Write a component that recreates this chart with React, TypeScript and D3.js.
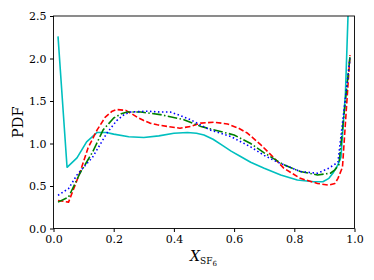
import React, { useRef, useEffect } from 'react';
import * as d3 from 'd3';

// Series sampled along X_SF6
const cyanX = [0.015, 0.045, 0.078, 0.11, 0.145, 0.175, 0.2, 0.25, 0.3, 0.35, 0.4, 0.445, 0.475, 0.5, 0.53, 0.56, 0.59, 0.62, 0.655, 0.7, 0.755, 0.81, 0.865, 0.895, 0.915, 0.93, 0.945, 0.955, 0.97, 0.985];
const cyanY = [2.26, 0.72, 0.83, 1.02, 1.13, 1.13, 1.11, 1.08, 1.07, 1.09, 1.12, 1.13, 1.12, 1.1, 1.05, 0.98, 0.91, 0.85, 0.78, 0.71, 0.63, 0.57, 0.55, 0.55, 0.59, 0.66, 0.75, 0.84, 1.6, 3.2];

const redX = [0.015, 0.05, 0.088, 0.115, 0.145, 0.172, 0.195, 0.21, 0.24, 0.26, 0.278, 0.3, 0.32, 0.345, 0.38, 0.42, 0.455, 0.49, 0.535, 0.578, 0.615, 0.645, 0.69, 0.73, 0.765, 0.82, 0.877, 0.915, 0.935, 0.945, 0.96, 0.985];
const redY = [0.33, 0.31, 0.66, 0.95, 1.16, 1.31, 1.38, 1.4, 1.39, 1.35, 1.31, 1.27, 1.24, 1.22, 1.2, 1.18, 1.2, 1.24, 1.25, 1.23, 1.18, 1.12, 0.98, 0.84, 0.71, 0.59, 0.53, 0.51, 0.53, 0.59, 0.72, 2.04];

const greenX = [0.015, 0.05, 0.088, 0.13, 0.165, 0.2, 0.225, 0.245, 0.29, 0.355, 0.433, 0.49, 0.545, 0.6, 0.655, 0.7, 0.765, 0.82, 0.877, 0.92, 0.935, 0.948, 0.985];
const greenY = [0.31, 0.37, 0.65, 0.9, 1.16, 1.3, 1.35, 1.37, 1.37, 1.34, 1.28, 1.2, 1.15, 1.1, 1.0, 0.89, 0.75, 0.67, 0.63, 0.65, 0.69, 0.75, 2.02];

const blueX = [0.015, 0.05, 0.078, 0.13, 0.177, 0.21, 0.235, 0.255, 0.31, 0.355, 0.388, 0.42, 0.455, 0.52, 0.59, 0.655, 0.7, 0.745, 0.82, 0.877, 0.915, 0.945, 0.985];
const blueY = [0.39, 0.47, 0.63, 0.84, 1.12, 1.27, 1.34, 1.37, 1.38, 1.37, 1.37, 1.33, 1.28, 1.16, 1.08, 0.96, 0.86, 0.78, 0.67, 0.65, 0.71, 0.78, 2.0];

const xTicks = [0.0, 0.2, 0.4, 0.6, 0.8, 1.0];
const yTicks = [0.0, 0.5, 1.0, 1.5, 2.0, 2.5];

const W = 374;
const H = 280;

const App: React.FC = () => {
  const svgRef = useRef<SVGSVGElement>(null);

  useEffect(() => {
    if (!svgRef.current) return;
    const svg = d3.select(svgRef.current);
    svg.selectAll('*').remove();

    const x = d3.scaleLinear().domain([0, 1]).range([53.5, 354.5]);
    const y = d3.scaleLinear().domain([0, 2.5]).range([228.5, 16]);
    const font = 'DejaVu Serif, serif';

    svg.append('defs').append('clipPath').attr('id', 'plotclip')
      .append('rect')
      .attr('x', x(0)).attr('y', y(2.5))
      .attr('width', x(1) - x(0)).attr('height', y(0) - y(2.5));

    const line = d3.line<[number, number]>()
      .x(d => x(d[0]))
      .y(d => y(d[1]))
      .curve(d3.curveLinear);

    const series = [
      { xs: cyanX, ys: cyanY, color: '#00bfbf', dash: null },
      { xs: redX, ys: redY, color: '#ff0000', dash: '5.5,2.4' },
      { xs: greenX, ys: greenY, color: '#008000', dash: '9.6,2.4,1.5,2.4' },
      { xs: blueX, ys: blueY, color: '#0000ff', dash: '1.5,2.5' },
    ];

    const g = svg.append('g').attr('clip-path', 'url(#plotclip)');
    series.forEach(s => {
      const pts = s.xs.map((v, i) => [v, s.ys[i]] as [number, number]);
      g.append('path')
        .attr('d', line(pts))
        .attr('fill', 'none')
        .attr('stroke', s.color)
        .attr('stroke-width', 1.6)
        .attr('stroke-dasharray', s.dash)
        .attr('stroke-linejoin', 'round');
    });

    // Frame
    svg.append('rect')
      .attr('x', x(0)).attr('y', y(2.5))
      .attr('width', x(1) - x(0)).attr('height', y(0) - y(2.5))
      .attr('fill', 'none')
      .attr('stroke', '#000')
      .attr('stroke-width', 0.9);

    // X axis
    const xa = svg.append('g').attr('transform', `translate(0,${y(0)})`);
    xa.call(d3.axisBottom(x).tickValues(xTicks).tickSize(3.5).tickPadding(3.5).tickFormat(d => d3.format('.1f')(d as number)));
    xa.select('.domain').remove();
    xa.selectAll('text').style('font-family', font).style('font-size', '11px').attr('fill', '#000');

    // Y axis
    const ya = svg.append('g').attr('transform', `translate(${x(0)},0)`);
    ya.call(d3.axisLeft(y).tickValues(yTicks).tickSize(3.5).tickPadding(3.5).tickFormat(d => d3.format('.1f')(d as number)));
    ya.select('.domain').remove();
    ya.selectAll('text').style('font-family', font).style('font-size', '11px').attr('fill', '#000');

    // Y label
    svg.append('text')
      .attr('transform', `translate(23,${(y(0) + y(2.5)) / 2}) rotate(-90)`)
      .attr('text-anchor', 'middle')
      .style('font-family', font)
      .style('font-size', '14.5px')
      .text('PDF');

    // X label X_{SF6}
    const xl = svg.append('text')
      .attr('x', (x(0) + x(1)) / 2 - 14)
      .attr('y', 261)
      .style('font-family', font)
      .style('font-size', '14px');
    xl.append('tspan').style('font-style', 'italic').text('X');
    xl.append('tspan').attr('dy', 3).style('font-size', '9px').text('SF');
    xl.append('tspan').attr('dy', 2).style('font-size', '7px').text('6');
  }, []);

  return (
    <div style={{ position: 'fixed', left: 0, top: 0 }}>
      <svg ref={svgRef} width={W} height={H} style={{ display: 'block', background: '#fff' }} />
    </div>
  );
};

export default App;
